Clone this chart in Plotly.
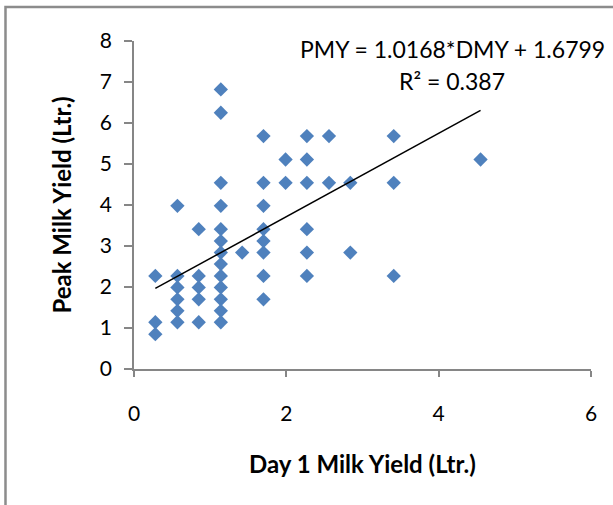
import plotly.graph_objects as go

# Day 1 milk yield (x) and peak milk yield (y), litres
day1_yield = (
    [0.28] * 3 + [0.57] * 6 + [0.85] * 5 + [1.14] * 13 + [1.42] * 1 +
    [1.70] * 8 + [1.99] * 2 + [2.27] * 6 + [2.56] * 2 + [2.84] * 2 +
    [3.41] * 3 + [4.55] * 1
)
peak_yield = [
    2.27, 1.14, 0.85,
    3.98, 2.27, 1.99, 1.70, 1.42, 1.14,
    3.41, 2.27, 1.99, 1.70, 1.14,
    6.82, 6.25, 4.54, 3.98, 3.41, 3.12, 2.84, 2.56, 2.27, 1.99, 1.70, 1.42, 1.14,
    2.84,
    5.68, 4.54, 3.98, 3.41, 3.12, 2.84, 2.27, 1.70,
    5.11, 4.54,
    5.68, 5.11, 4.54, 3.41, 2.84, 2.27,
    5.68, 4.54,
    4.54, 2.84,
    5.68, 4.54, 2.27,
    5.11,
]

# linear trendline reported on the chart
slope = 1.0168
intercept = 1.6799
r_squared = 0.387

x_title = "Day 1 Milk Yield (Ltr.)"
y_title = "Peak Milk Yield (Ltr.)"

FONT = "Lato, Open Sans, sans-serif"
AXIS_COLOR = "#868686"

trend_x = [min(day1_yield), max(day1_yield)]
trend_y = [slope * v + intercept for v in trend_x]

fig = go.Figure()
fig.add_trace(go.Scatter(
    x=day1_yield, y=peak_yield, mode="markers",
    marker=dict(symbol="diamond", size=11, color="#4F81BD", line=dict(width=0)),
    showlegend=False, hoverinfo="x+y",
))
fig.add_trace(go.Scatter(
    x=trend_x, y=trend_y, mode="lines",
    line=dict(color="black", width=1.5),
    showlegend=False, hoverinfo="skip",
))

axis_common = dict(
    showgrid=False, zeroline=False, showline=True, linecolor=AXIS_COLOR,
    linewidth=1.5, ticks="outside", tickcolor=AXIS_COLOR, tickwidth=1.5,
    tickfont=dict(family=FONT, size=21, color="black"),
)
fig.update_xaxes(range=[0, 6], dtick=2, tick0=0, ticklen=6,
                 ticklabelstandoff=19, **axis_common)
fig.update_yaxes(range=[0, 8], dtick=1, tick0=0, ticklen=8,
                 ticklabelstandoff=8, **axis_common)

fig.add_annotation(
    x=4.175, y=7.805, xref="x", yref="y",
    text=f"PMY = {slope}*DMY + {intercept}",
    showarrow=False, xanchor="center", yanchor="middle",
    font=dict(family=FONT, size=23, color="black"),
)
fig.add_annotation(
    x=4.175, y=7.024, xref="x", yref="y",
    text=f"R² = {r_squared}",
    showarrow=False, xanchor="center", yanchor="middle",
    font=dict(family=FONT, size=23, color="black"),
)
fig.add_annotation(
    x=0.5, y=-0.2866, xref="paper", yref="paper", text=f"<b>{x_title}</b>",
    showarrow=False, xanchor="center", yanchor="middle",
    font=dict(family=FONT, size=24, color="black"),
)
fig.add_annotation(
    x=-0.1606, y=0.5, xref="paper", yref="paper", text=f"<b>{y_title}</b>",
    showarrow=False, xanchor="center", yanchor="middle", textangle=-90,
    font=dict(family=FONT, size=24, color="black"),
)

# chart-area frame (cropped on the right and bottom)
fig.add_shape(type="rect", xref="paper", yref="paper",
              x0=-0.2812, x1=1.3, y0=-0.6, y1=1.1037,
              line=dict(color="#8c8c8c", width=2.5))

fig.update_layout(
    width=613, height=505,
    margin=dict(l=134, r=22, t=41, b=136),
    paper_bgcolor="white", plot_bgcolor="white",
    font=dict(family=FONT, color="black"),
)

fig.write_html("out.html")
